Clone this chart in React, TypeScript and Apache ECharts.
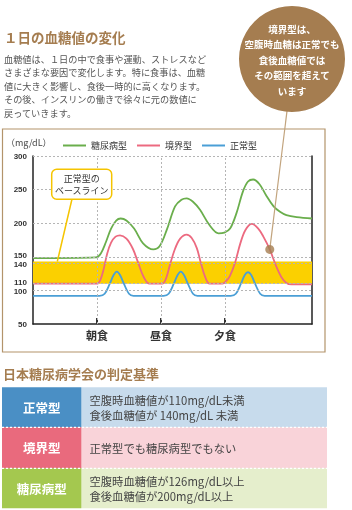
import React, { useEffect, useRef } from 'react';
import * as echarts from 'echarts';

// ---- data ----
const SERIES_NAMES = ['糖尿病型', '境界型', '正常型'];
const MEAL_LABELS = ['朝食', '昼食', '夕食'];
const MEAL_TIMES = [5, 10, 15];
const X_MAX = 21.8;
const Y_TICKS = [50, 100, 110, 140, 150, 200, 250, 300];
const GRID_VALUES = [100, 110, 140, 150, 200, 250, 300];
const BAND = [110, 143];

const DIABETES: number[][] = [
  [0, 148], [4.9, 149], [5.3, 155], [5.7, 172], [6.1, 192], [6.5, 204], [6.85, 207],
  [7.3, 204], [7.9, 192], [8.6, 170], [9.4, 161], [9.9, 166], [10.45, 190], [11.1, 225],
  [11.6, 235], [12.0, 237], [12.5, 232], [13.05, 220], [13.8, 197], [14.5, 185], [14.95, 186],
  [15.4, 192], [15.9, 215], [16.4, 247], [16.8, 262], [17.2, 265], [17.7, 258], [18.2, 242],
  [18.8, 225], [19.3, 217], [19.8, 212], [20.6, 209], [21.8, 207],
];
const BORDERLINE: number[][] = [
  [0, 110], [5.0, 110], [5.25, 115], [5.5, 130], [5.8, 155], [6.1, 171], [6.45, 180], [6.8, 182],
  [7.3, 177], [7.8, 162], [8.2, 142], [8.65, 120], [9.1, 110],
  [10.1, 110], [10.4, 118], [10.7, 138], [11.1, 162], [11.5, 177], [12.0, 183], [12.4, 178],
  [12.8, 163], [13.1, 142], [13.45, 120], [13.8, 110],
  [14.8, 110], [15.1, 114], [15.4, 122], [15.8, 142], [16.2, 170], [16.6, 190], [17.1, 199],
  [17.6, 192], [18.0, 180], [18.5, 161], [19.0, 136], [19.4, 120], [19.8, 111], [20.2, 109], [21.8, 109],
];
const NORMAL: number[][] = [
  [0, 92], [5.2, 92], [5.6, 95], [6.0, 110], [6.3, 123], [6.55, 128], [6.8, 123], [7.1, 110], [7.5, 95], [7.85, 92],
  [10.2, 92], [10.6, 95], [11.0, 110], [11.3, 123], [11.55, 128], [11.8, 123], [12.1, 110], [12.5, 95], [12.85, 92],
  [15.45, 92], [15.85, 95], [16.25, 110], [16.55, 123], [16.8, 127], [17.05, 123], [17.35, 110], [17.75, 95], [18.1, 92],
  [21.8, 92],
];
const CALLOUT_POINT = [18.5, 161];
const BASELINE_POINT = [1.9, 143];

const TITLE = '１日の血糖値の変化';
const PARAGRAPH = [
  '血糖値は、１日の中で食事や運動、ストレスなど',
  'さまざまな要因で変化します。特に食事は、血糖',
  '値に大きく影響し、食後一時的に高くなります。',
  'その後、インスリンの働きで徐々に元の数値に',
  '戻っていきます。',
];
const BUBBLE_LINES = ['境界型は、', '空腹時血糖は正常でも', '食後血糖値では', 'その範囲を超えて', 'います'];
const BASELINE_LINES = ['正常型の', 'ベースライン'];
const UNIT = '（mg/dL）';
const TABLE_TITLE = '日本糖尿病学会の判定基準';
const TABLE_LABELS = ['正常型', '境界型', '糖尿病型'];
const TABLE_TEXTS = [
  ['空腹時血糖値が110mg/dL未満', '食後血糖値が 140mg/dL 未満'],
  ['正常型でも糖尿病型でもない'],
  ['空腹時血糖値が126mg/dL以上', '食後血糖値が200mg/dL以上'],
];

const FONT = '"Noto Sans CJK JP", "Noto Sans", sans-serif';
const GREEN = '#6aae4c';
const PINK = '#ec6a80';
const BLUE = '#4a9fd6';
const BROWN = '#a57d50';
const YELLOW = '#fbd000';

export default function App() {
  const ref = useRef<HTMLDivElement>(null);
  useEffect(() => {
    if (!ref.current) return;
    const chart = echarts.init(ref.current, undefined, { renderer: 'svg' });
    const gridLine = { color: '#b5b5b5', width: 1, type: [2, 2] as any };
    const lineSeries = (name: string, data: number[][], color: string) => ({
      name,
      type: 'line',
      data,
      z: 3,
      showSymbol: false,
      smooth: 0.35,
      lineStyle: { color, width: 1.8 },
      itemStyle: { color },
    });
    const option: any = {
      animation: false,
      textStyle: { fontFamily: FONT },
      grid: { left: 33, top: 156, width: 279, height: 168, containLabel: false },
      legend: {
        data: SERIES_NAMES,
        left: 58,
        top: 136,
        icon: 'rect',
        itemWidth: 23,
        itemHeight: 2,
        itemGap: 10,
        textStyle: { fontSize: 9, color: '#333', fontFamily: FONT },
      },
      xAxis: {
        type: 'value',
        min: 0,
        max: X_MAX,
        interval: 5,
        axisLine: { show: true, lineStyle: { color: '#222', width: 1.5 } },
        axisTick: { show: true, inside: true, length: 6, customValues: MEAL_TIMES, lineStyle: { color: '#333', width: 2 } },
        axisLabel: {
          customValues: MEAL_TIMES,
          margin: 5,
          fontSize: 11,
          fontWeight: 'bold',
          color: '#333',
          fontFamily: FONT,
          formatter: (v: number) => MEAL_LABELS[MEAL_TIMES.indexOf(v)] ?? '',
        },
        splitLine: { show: false },
      },
      yAxis: [
        {
          type: 'value',
          min: 50,
          max: 300,
          interval: 50,
          axisLine: { show: true, lineStyle: { color: '#222', width: 1.5 } },
          axisTick: { show: false },
          axisLabel: {
            customValues: Y_TICKS,
            margin: 6,
            fontSize: 8,
            fontWeight: 'bold',
            color: '#333',
            fontFamily: 'Arial, "Liberation Sans", sans-serif',
            formatter: (v: number) =>
              v === 150 || v === 110 ? `{up|${v}}` : v === 140 || v === 100 ? `{dn|${v}}` : `${v}`,
            rich: {
              up: { fontSize: 8, fontWeight: 'bold', color: '#333', padding: [0, 0, 2, 0] },
              dn: { fontSize: 8, fontWeight: 'bold', color: '#333', padding: [2, 0, 0, 0] },
            },
          },
          splitLine: { show: false },
        },
        {
          type: 'value',
          min: 50,
          max: 300,
          position: 'right',
          axisLine: { show: true, onZero: false, lineStyle: { color: '#222', width: 1.5 } },
          axisTick: { show: false },
          axisLabel: { show: false },
          splitLine: { show: false },
        },
      ],
      series: [
        {
          name: 'grid',
          type: 'line',
          data: [],
          z: 0,
          silent: true,
          markLine: {
            silent: true,
            symbol: 'none',
            label: { show: false },
            lineStyle: gridLine,
            data: [
              ...MEAL_TIMES.map((t) => ({ xAxis: t })),
              ...GRID_VALUES.map((v) => ({ yAxis: v })),
            ],
          },
        },
        {
          name: 'band',
          type: 'line',
          data: [],
          z: 1,
          silent: true,
          markArea: {
            silent: true,
            itemStyle: { color: YELLOW, opacity: 1 },
            data: [[{ yAxis: BAND[0] }, { yAxis: BAND[1] }]],
          },
        },
        lineSeries(SERIES_NAMES[2], NORMAL, BLUE),
        lineSeries(SERIES_NAMES[1], BORDERLINE, PINK),
        lineSeries(SERIES_NAMES[0], DIABETES, GREEN),
        {
          name: 'callout',
          type: 'scatter',
          data: [CALLOUT_POINT],
          z: 6,
          symbolSize: 9,
          itemStyle: { color: BROWN },
          silent: true,
        },
      ],
    };
    chart.setOption(option);

    const dot = chart.convertToPixel({ gridIndex: 0 }, CALLOUT_POINT) as number[];
    const base = chart.convertToPixel({ gridIndex: 0 }, BASELINE_POINT) as number[];

    const g: any[] = [];
    const txt = (text: string, x: number, y: number, o: any = {}) => ({
      type: 'text',
      x,
      y,
      z: 20,
      style: {
        text,
        fill: o.fill ?? '#555',
        fontSize: o.size ?? 9,
        fontWeight: o.weight ?? 'normal',
        fontFamily: FONT,
        align: o.align ?? 'left',
        verticalAlign: 'middle',
      },
    });

    // header
    g.push(txt(TITLE, 4, 36.5, { fill: BROWN, size: 13.5, weight: 'bold' }));
    PARAGRAPH.forEach((l, i) => g.push(txt(l, 4, 58.5 + i * 13.6, { size: 9.2, fill: '#555' })));

    // bubble
    g.push({ type: 'circle', z: 15, shape: { cx: 292, cy: 59, r: 53 }, style: { fill: BROWN } });
    BUBBLE_LINES.forEach((l, i) =>
      g.push(txt(l, 292, 28.5 + i * 15.6, { fill: '#fff', size: 9.5, weight: 'bold', align: 'center' }))
    );
    g.push({
      type: 'line',
      z: 5,
      shape: { x1: 287, y1: 111, x2: dot[0], y2: dot[1] },
      style: { stroke: '#c2a47e', lineWidth: 1.2 },
    });

    // chart frame
    g.push({
      type: 'rect',
      z: 1,
      shape: { x: 2.5, y: 129, width: 322.5, height: 223 },
      style: { fill: 'none', stroke: '#b3946b', lineWidth: 1.2 },
    });
    g.push(txt(UNIT, 6, 142.5, { size: 9, fill: '#444' }));

    // baseline callout
    g.push({
      type: 'line',
      z: 10,
      shape: { x1: 72, y1: 199, x2: base[0], y2: base[1] },
      style: { stroke: '#f5c400', lineWidth: 1.5 },
    });
    g.push({
      type: 'rect',
      z: 11,
      shape: { x: 51.7, y: 169.3, width: 60, height: 30, r: 5 },
      style: { fill: '#fff', stroke: '#f5c400', lineWidth: 1.5 },
    });
    BASELINE_LINES.forEach((l, i) =>
      g.push(txt(l, 81.7, 178.5 + i * 11.7, { size: 9, fill: '#333', align: 'center' }))
    );

    // table
    g.push(txt(TABLE_TITLE, 3, 373.5, { fill: BROWN, size: 13, weight: 'bold' }));
    const rowTops = [387.3, 427.3, 468.3];
    const rowBottoms = [427.3, 468.3, 508.3];
    const dark = ['#4a8fc5', '#e96a7d', '#a4c84f'];
    const light = ['#c7dbec', '#f9d3d9', '#e5eecc'];
    rowTops.forEach((top, i) => {
      const h = rowBottoms[i] - top;
      g.push({ type: 'rect', z: 1, shape: { x: 2, y: top, width: 79.5, height: h }, style: { fill: dark[i] } });
      g.push({ type: 'rect', z: 1, shape: { x: 82, y: top, width: 245, height: h }, style: { fill: light[i] } });
      g.push(txt(TABLE_LABELS[i], 41.8, top + h / 2, { fill: '#fff', size: 12.5, weight: 'bold', align: 'center' }));
      const lines = TABLE_TEXTS[i];
      const cy = top + h / 2;
      lines.forEach((l, j) =>
        g.push(txt(l, 89.5, cy + (j - (lines.length - 1) / 2) * 15.5, { size: 11.3, fill: '#444' }))
      );
      if (i > 0) {
        g.push({
          type: 'line',
          z: 3,
          shape: { x1: 2, y1: top, x2: 327, y2: top },
          style: { stroke: '#fff', lineWidth: 1.2, lineDash: [2, 2] },
        });
      }
    });

    chart.setOption({ graphic: g });
    return () => chart.dispose();
  }, []);
  return <div ref={ref} style={{ position: 'fixed', left: 0, top: 0, width: 352, height: 510 }} />;
}
